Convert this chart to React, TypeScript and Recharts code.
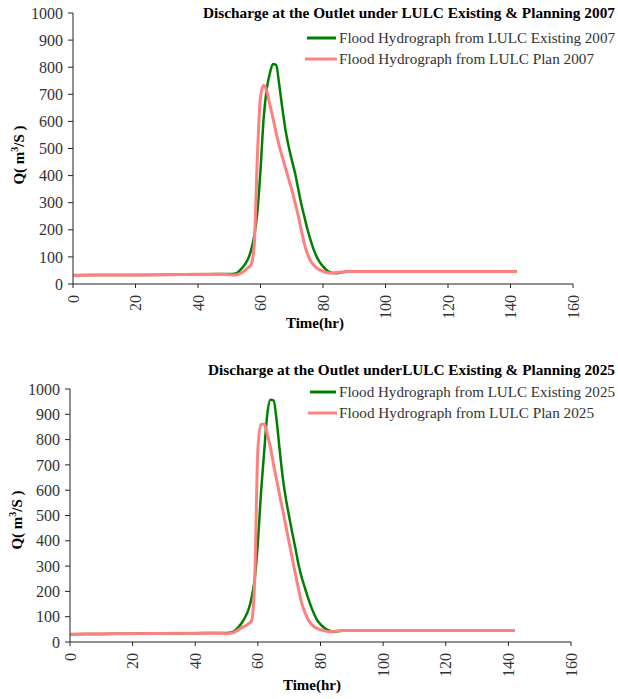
import { FC } from 'react';
import { LineChart, Line, XAxis, YAxis } from 'recharts';

const hours = [
	0, 10, 20, 30, 40, 48, 50, 52, 54, 55, 56, 57, 58, 59, 60, 61, 62, 63, 64, 65, 66, 67, 68, 69, 70,
	71, 72, 73, 74, 75, 76, 77, 78, 79, 80, 81, 82, 83, 84, 86, 88, 90, 100, 110, 120, 130, 142,
];

const existing2007 = [
	32, 33, 33, 34, 36, 37, 37, 39, 58, 72, 92, 125, 178, 265, 420, 610, 720, 778, 812, 808, 735, 648,
	568, 508, 458, 412, 355, 298, 250, 203, 163, 128, 100, 80, 65, 53, 45, 41, 40, 43, 46, 47, 47, 47,
	47, 47, 47,
];
const plan2007 = [
	32, 33, 33, 34, 36, 36, 34, 33, 42, 50, 60, 72, 145, 470, 690, 733, 712, 662, 612, 558, 510, 468,
	428, 388, 348, 303, 256, 202, 150, 112, 86, 70, 59, 52, 47, 43, 41, 41, 42, 44, 46, 46, 46, 46, 46,
	46, 46,
];

const existing2025 = [
	31, 32, 33, 34, 35, 36, 36, 40, 62, 78, 100, 128, 175, 250, 395, 590, 750, 900, 958, 955, 875, 755,
	645, 562, 495, 430, 370, 305, 255, 215, 175, 140, 110, 85, 70, 58, 49, 44, 41, 43, 46, 45, 45, 45,
	45, 45, 45,
];
const plan2025 = [
	31, 32, 33, 34, 35, 35, 33, 36, 50, 58, 64, 72, 85, 250, 760, 860, 862, 822, 770, 702, 640, 578,
	518, 455, 392, 330, 268, 208, 154, 118, 90, 72, 60, 54, 49, 45, 42, 41, 42, 44, 45, 45, 45, 45, 45,
	45, 45,
];

const xTicks = [0, 20, 40, 60, 80, 100, 120, 140, 160];
const yTicks = [0, 100, 200, 300, 400, 500, 600, 700, 800, 900, 1000];

const FONT = '"Liberation Serif", "DejaVu Serif", serif';
const GREEN = '#008000';
const PINK = '#FF8080';
const AXIS = '#222';
const TICK_SIZE = 16;

const buildRows = (existing: number[], plan: number[]) =>
	hours.map((t, i) => ({ t, existing: existing[i], plan: plan[i] }));

const XTick = ({ x, y, payload }: { x: number; y: number; payload: { value: number } }) => (
	<g transform={`translate(${x}, ${y + 1}) rotate(-90)`}>
		<text x={0} y={0} textAnchor='end' dy='0.35em' fill='#333' fontFamily={FONT} fontSize={TICK_SIZE}>
			{payload.value}
		</text>
	</g>
);

const YTick = ({ x, y, payload }: { x: number; y: number; payload: { value: number } }) => (
	<g transform={`translate(${x}, ${y})`}>
		<text x={0} y={0} textAnchor='end' dy='0.35em' fill='#333' fontFamily={FONT} fontSize={TICK_SIZE}>
			{payload.value}
		</text>
	</g>
);

type ChartProps = {
	top: number;
	height: number;
	margin: { top: number; right: number; bottom: number; left: number };
	existing: number[];
	plan: number[];
};

const Hydrograph: FC<ChartProps> = ({ top, height, margin, existing, plan }) => (
	<div style={{ position: 'absolute', left: 0, top }}>
		<LineChart width={618} height={height} data={buildRows(existing, plan)} margin={margin}>
			<XAxis
				dataKey='t'
				type='number'
				domain={[0, 160]}
				ticks={xTicks}
				interval={0}
				height={40}
				tickSize={4}
				tickMargin={6}
				stroke={AXIS}
				tick={XTick}
			/>
			<YAxis
				type='number'
				domain={[0, 1000]}
				ticks={yTicks}
				interval={0}
				width={45}
				tickSize={5}
				tickMargin={5}
				stroke={AXIS}
				tick={YTick}
			/>
			<Line
				type='monotone'
				dataKey='existing'
				stroke={GREEN}
				strokeWidth={2.5}
				dot={false}
				isAnimationActive={false}
			/>
			<Line
				type='monotone'
				dataKey='plan'
				stroke={PINK}
				strokeWidth={3}
				dot={false}
				isAnimationActive={false}
			/>
		</LineChart>
	</div>
);

const Labels: FC<{
	titleY: number;
	title: string;
	titleWidth: number;
	legendY: number;
	legendX: number;
	year: string;
	timeY: number;
	timeX: number;
	qY: number;
	qX: number;
}> = ({ titleY, title, titleWidth, legendY, legendX, year, timeY, timeX, qY, qX }) => (
	<g fontFamily={FONT}>
		<text
			x={615}
			y={titleY}
			textAnchor='end'
			fontWeight='bold'
			fontSize={14}
			fill='#000'
			textLength={titleWidth}
			lengthAdjust='spacingAndGlyphs'
		>
			{title}
		</text>
		<line x1={legendX} x2={336} y1={legendY} y2={legendY} stroke={GREEN} strokeWidth={3} />
		<text x={339} y={legendY + 5} fontSize={15} fill='#333' textLength={276} lengthAdjust='spacingAndGlyphs'>
			{`Flood Hydrograph from LULC Existing ${year}`}
		</text>
		<line x1={legendX - 2} x2={337} y1={legendY + 21} y2={legendY + 21} stroke={PINK} strokeWidth={3} />
		<text x={339} y={legendY + 26} fontSize={15} fill='#333' textLength={255} lengthAdjust='spacingAndGlyphs'>
			{`Flood Hydrograph from LULC Plan ${year}`}
		</text>
		<text x={timeX} y={timeY} textAnchor='middle' fontWeight='bold' fontSize={15} fill='#000'>
			Time(hr)
		</text>
		<text
			x={qX}
			y={qY}
			transform={`rotate(-90, ${qX}, ${qY})`}
			textAnchor='middle'
			fontWeight='bold'
			fontSize={15}
			fill='#000'
		>
			Q( m
			<tspan fontSize={10} dy={-6}>
				3
			</tspan>
			<tspan dy={6}>/S )</tspan>
		</text>
	</g>
);

const App: FC = () => {
	return (
		<div
			style={{
				position: 'absolute',
				left: 0,
				top: 0,
				width: 618,
				height: 699,
				background: '#fff',
				overflow: 'hidden',
			}}
		>
			<Hydrograph
				top={0}
				height={350}
				margin={{ top: 13, right: 45, bottom: 26, left: 28 }}
				existing={existing2007}
				plan={plan2007}
			/>
			<Hydrograph
				top={350}
				height={349}
				margin={{ top: 39, right: 47, bottom: 17, left: 25 }}
				existing={existing2025}
				plan={plan2025}
			/>
			<svg
				width={618}
				height={699}
				style={{ position: 'absolute', left: 0, top: 0, pointerEvents: 'none' }}
			>
				<Labels
					titleY={18}
					title='Discharge at the Outlet under LULC Existing & Planning 2007'
					titleWidth={412}
					legendY={38}
					legendX={307}
					year='2007'
					timeY={328}
					timeX={315}
					qY={155}
					qX={24}
				/>
				<Labels
					titleY={375}
					title='Discharge at the Outlet underLULC Existing & Planning 2025'
					titleWidth={407}
					legendY={392}
					legendX={310}
					year='2025'
					timeY={690}
					timeX={312}
					qY={520}
					qX={22}
				/>
			</svg>
		</div>
	);
};

export default App;
